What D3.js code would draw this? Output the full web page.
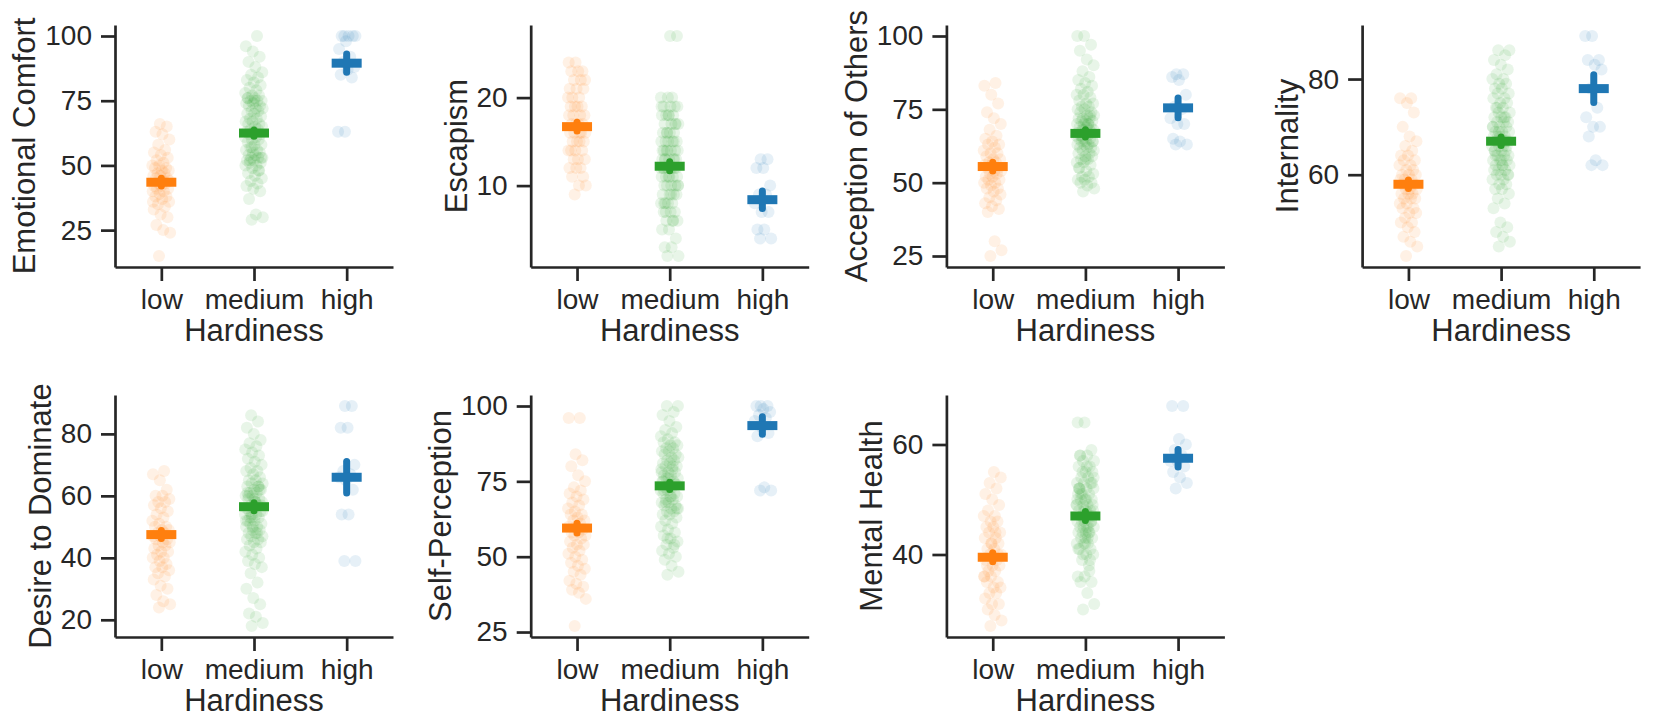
<!DOCTYPE html>
<html>
<head>
<meta charset="utf-8">
<script src="https://cdn.jsdelivr.net/npm/d3@7"></script>
<style>
body { margin: 0; background: #fff; }
svg text { font-family: "Liberation Sans", Arial, sans-serif; fill: #262626; }
</style>
</head>
<body>
<svg id="chart" width="1654" height="722"></svg>
<script>
// groups and colours
var groups = ["low", "medium", "high"];
var colors = ["#ff7f0e", "#2ca02c", "#1f77b4"];

// Emotional Comfort
var ecLow = [15, 24, 25, 27, 30, 31, 33, 34, 35, 36, 37, 38, 38, 39, 40, 40, 41, 41, 42, 42, 43, 43, 44, 44, 45, 45, 46, 46, 47, 47, 48, 48, 49, 49, 50, 50, 51, 52, 53, 54, 55, 56, 58, 60, 62, 63, 65, 66, 36, 44];
var ecMed = [29, 30, 31, 37, 40, 41, 42, 43, 44, 45, 46, 47, 48, 49, 50, 50, 51, 51, 52, 52, 53, 53, 53, 54, 54, 55, 55, 56, 56, 57, 58, 58, 59, 60, 60, 61, 61, 62, 62, 63, 63, 64, 64, 65, 65, 66, 66, 67, 67, 68, 68, 69, 70, 70, 71, 71, 72, 72, 73, 73, 74, 74, 75, 75, 75, 76, 76, 77, 77, 78, 79, 80, 81, 82, 83, 84, 85, 86, 88, 90, 92, 94, 96, 100, 52, 53, 75, 76, 48, 57];
var ecHigh = [100, 100, 100, 100, 100, 98, 95, 92, 90, 88, 87, 85, 84, 63, 63];
var ecMeans = [43.5, 62.5, 89.5];
var ecCi = [1.5, 1.2, 3.5];
var ecTicks = [25, 50, 75, 100];

// Escapism
var esLow = [9, 10, 10, 11, 11, 12, 12, 12, 13, 13, 13, 14, 14, 14, 14, 15, 15, 15, 15, 16, 16, 16, 16, 17, 17, 17, 17, 18, 18, 18, 18, 19, 19, 19, 19, 20, 20, 20, 21, 21, 21, 22, 22, 22, 23, 23, 23, 24, 24, 16];
var esMed = [2, 2, 3, 3, 4, 5, 5, 6, 6, 6, 7, 7, 7, 8, 8, 8, 8, 9, 9, 9, 9, 10, 10, 10, 10, 10, 11, 11, 11, 11, 11, 12, 12, 12, 12, 12, 12, 13, 13, 13, 13, 13, 14, 14, 14, 14, 14, 15, 15, 15, 15, 15, 16, 16, 16, 16, 17, 17, 17, 17, 18, 18, 18, 18, 19, 19, 19, 19, 20, 20, 20, 13, 12, 11, 14, 15, 16, 10, 9, 8, 17, 18, 19, 6, 7, 27, 27, 12, 13, 14];
var esHigh = [4, 4, 5, 5, 7, 7, 8, 9, 9, 10, 12, 12, 13, 13];
var esMeans = [16.7, 12.2, 8.4];
var esCi = [0.5, 0.5, 1.0];
var esTicks = [10, 20];

// Acception of Others
var aoLow = [25, 27, 30, 40, 41, 42, 43, 44, 45, 46, 47, 48, 48, 49, 50, 50, 51, 51, 52, 52, 53, 53, 54, 54, 55, 55, 56, 56, 57, 57, 58, 58, 59, 60, 60, 61, 62, 63, 63, 64, 65, 66, 68, 70, 72, 74, 77, 80, 83, 84];
var aoMed = [47, 48, 49, 50, 50, 51, 51, 52, 52, 53, 54, 55, 56, 57, 57, 58, 58, 59, 59, 60, 60, 61, 61, 62, 62, 62, 63, 63, 63, 64, 64, 64, 65, 65, 65, 66, 66, 66, 67, 67, 67, 68, 68, 68, 69, 69, 69, 70, 70, 70, 71, 71, 71, 72, 72, 72, 73, 73, 74, 74, 75, 75, 76, 76, 77, 77, 78, 79, 80, 80, 81, 82, 83, 84, 85, 86, 88, 90, 92, 95, 97, 100, 100, 70, 66, 64, 58, 55, 73, 68];
var aoHigh = [63, 63, 64, 65, 70, 70, 72, 75, 76, 80, 85, 86, 87, 87];
var aoMeans = [55.5, 66.8, 75.5];
var aoCi = [1.5, 1.2, 3.4];
var aoTicks = [25, 50, 75, 100];

// Internality
var inLow = [43, 45, 46, 47, 48, 49, 50, 50, 51, 52, 52, 53, 53, 54, 54, 55, 55, 55, 56, 56, 56, 57, 57, 57, 58, 58, 58, 59, 59, 59, 60, 60, 60, 61, 61, 62, 62, 63, 63, 64, 64, 65, 66, 67, 68, 70, 73, 75, 76, 76];
var inMed = [45, 46, 47, 48, 49, 50, 53, 54, 55, 56, 57, 57, 58, 58, 59, 59, 60, 60, 60, 61, 61, 61, 62, 62, 62, 63, 63, 63, 64, 64, 64, 65, 65, 65, 66, 66, 66, 67, 67, 67, 68, 68, 68, 69, 69, 69, 70, 70, 70, 71, 71, 71, 72, 72, 72, 73, 73, 74, 74, 75, 75, 76, 76, 77, 77, 78, 78, 79, 79, 80, 80, 81, 82, 83, 84, 85, 86, 86, 62, 64, 66, 68, 70, 72, 74, 60, 63, 65, 67, 69];
var inHigh = [62, 62, 63, 68, 70, 70, 72, 74, 78, 82, 83, 84, 84, 89, 89];
var inMeans = [58, 67, 78];
var inCi = [0.9, 0.9, 2.9];
var inTicks = [60, 80];

// Desire to Dominate
var ddLow = [24, 25, 26, 28, 30, 31, 33, 34, 35, 36, 37, 37, 38, 39, 40, 40, 41, 42, 42, 43, 44, 44, 45, 45, 46, 46, 47, 47, 48, 48, 49, 49, 50, 50, 51, 52, 53, 54, 55, 56, 57, 58, 58, 59, 60, 60, 62, 65, 67, 68];
var ddMed = [18, 19, 21, 22, 25, 27, 30, 32, 35, 37, 38, 39, 40, 41, 42, 43, 44, 45, 45, 46, 46, 47, 47, 48, 48, 49, 49, 50, 50, 51, 51, 52, 52, 53, 53, 54, 54, 55, 55, 56, 56, 57, 57, 58, 58, 59, 59, 60, 60, 61, 61, 62, 62, 63, 63, 64, 64, 65, 65, 66, 67, 68, 68, 69, 70, 71, 72, 73, 74, 75, 76, 77, 78, 80, 82, 84, 86, 55, 58, 60, 62, 50, 52, 48, 53, 57, 59, 61, 63, 54];
var ddHigh = [39, 39, 54, 54, 62, 65, 66, 67, 68, 70, 82, 82, 89, 89];
var ddMeans = [47.5, 56.5, 66];
var ddCi = [1.3, 1.3, 5.1];
var ddTicks = [20, 40, 60, 80];

// Self-Perception
var spLow = [27, 36, 38, 39, 40, 41, 42, 44, 45, 46, 47, 48, 49, 50, 51, 52, 53, 54, 54, 55, 56, 57, 57, 58, 58, 59, 60, 60, 61, 62, 62, 63, 64, 64, 65, 66, 67, 68, 69, 70, 71, 72, 73, 75, 77, 80, 82, 84, 96, 96];
var spMed = [44, 45, 47, 49, 50, 51, 52, 53, 54, 55, 56, 57, 58, 59, 60, 61, 62, 63, 64, 64, 65, 65, 66, 66, 67, 67, 68, 68, 69, 69, 70, 70, 71, 71, 72, 72, 73, 73, 74, 74, 75, 75, 76, 76, 77, 77, 78, 78, 79, 79, 80, 80, 81, 81, 82, 82, 83, 83, 84, 84, 85, 85, 86, 86, 87, 87, 88, 88, 89, 90, 91, 92, 93, 95, 97, 98, 100, 100, 70, 72, 74, 76, 78, 80, 68, 66, 73, 75, 54, 56];
var spHigh = [72, 72, 73, 90, 91, 93, 95, 96, 97, 98, 99, 100, 100, 100];
var spMeans = [59.5, 73.5, 93.5];
var spCi = [1.6, 1.2, 2.9];
var spTicks = [25, 50, 75, 100];

// Mental Health
var mhLow = [27, 28, 29, 30, 31, 31, 32, 33, 33, 34, 34, 35, 35, 36, 36, 37, 37, 38, 38, 39, 39, 40, 40, 41, 41, 42, 42, 43, 43, 44, 44, 45, 45, 46, 46, 47, 47, 48, 49, 50, 51, 52, 53, 54, 55, 38, 40, 42, 36, 44];
var mhMed = [30, 31, 33, 35, 35, 36, 36, 38, 39, 40, 40, 41, 41, 42, 42, 42, 43, 43, 43, 44, 44, 44, 45, 45, 45, 46, 46, 46, 47, 47, 47, 48, 48, 48, 49, 49, 49, 50, 50, 50, 51, 51, 51, 52, 52, 52, 53, 53, 53, 54, 54, 55, 55, 56, 56, 57, 57, 58, 58, 59, 64, 64, 44, 46, 48, 50, 52, 47, 45, 49, 43, 51, 53, 42, 41, 37, 55, 54, 56, 58, 46, 48, 50, 45, 47, 49, 44, 52, 39, 40];
var mhHigh = [52, 53, 54, 55, 56, 57, 57, 58, 59, 60, 61, 67, 67];
var mhMeans = [39.5, 47, 57.5];
var mhCi = [0.8, 0.8, 1.6];
var mhTicks = [40, 60];

var panels = [
  { label: "Emotional Comfort", values: [ecLow, ecMed, ecHigh], means: ecMeans, ci: ecCi, ticks: ecTicks },
  { label: "Escapism", values: [esLow, esMed, esHigh], means: esMeans, ci: esCi, ticks: esTicks },
  { label: "Acception of Others", values: [aoLow, aoMed, aoHigh], means: aoMeans, ci: aoCi, ticks: aoTicks },
  { label: "Internality", values: [inLow, inMed, inHigh], means: inMeans, ci: inCi, ticks: inTicks },
  { label: "Desire to Dominate", values: [ddLow, ddMed, ddHigh], means: ddMeans, ci: ddCi, ticks: ddTicks },
  { label: "Self-Perception", values: [spLow, spMed, spHigh], means: spMeans, ci: spCi, ticks: spTicks },
  { label: "Mental Health", values: [mhLow, mhMed, mhHigh], means: mhMeans, ci: mhCi, ticks: mhTicks }
];

var w = 278, h = 242;
var svg = d3.select("#chart");

panels.forEach(function(p, k) {
  var col = k % 4, row = Math.floor(k / 4);
  var left = 115 + col * 415.7;
  var top = row === 0 ? 25 : 395;

  var g = svg.append("g").attr("transform", "translate(" + left + "," + top + ")");

  var all = d3.merge(p.values);
  var lo = d3.min(all), hi = d3.max(all), pad = (hi - lo) * 0.05;

  var x = d3.scalePoint().domain(groups).range([0, w]).padding(0.5);
  var y = d3.scaleLinear().domain([lo - pad, hi + pad]).range([h, 0]);

  // strip points, deterministic jitter
  p.values.forEach(function(vals, gi) {
    g.append("g").selectAll("circle")
      .data(vals)
      .enter().append("circle")
      .attr("cx", function(d, i) { return x(groups[gi]) + (((i * 0.618034 + 0.37) % 1) - 0.5) * 18; })
      .attr("cy", function(d) { return y(d); })
      .attr("r", 6)
      .attr("fill", colors[gi])
      .attr("fill-opacity", 0.11);
  });

  // means with error bars
  groups.forEach(function(gr, gi) {
    var m = p.means[gi], c = p.ci[gi];
    g.append("line")
      .attr("x1", x(gr)).attr("x2", x(gr))
      .attr("y1", y(m - c)).attr("y2", y(m + c))
      .attr("stroke", colors[gi])
      .attr("stroke-width", 7)
      .attr("stroke-linecap", "round");
    g.append("rect")
      .attr("x", x(gr) - 15).attr("y", y(m) - 4.5)
      .attr("width", 30).attr("height", 9)
      .attr("fill", colors[gi]);
  });

  // axes
  var xa = g.append("g").attr("transform", "translate(0," + h + ")")
    .call(d3.axisBottom(x).tickSize(14).tickSizeOuter(0));
  xa.selectAll("text").attr("y", 42).attr("dy", null).style("font-size", "28px");

  var ya = g.append("g")
    .call(d3.axisLeft(y).tickValues(p.ticks).tickSize(14).tickSizeOuter(0).tickPadding(9));
  ya.selectAll("text").style("font-size", "28px");

  [xa, ya].forEach(function(a) {
    a.select(".domain").attr("stroke", "#262626").attr("stroke-width", 2.7);
    a.selectAll(".tick line").attr("stroke", "#262626").attr("stroke-width", 2.7);
  });

  g.append("text")
    .attr("x", w / 2).attr("y", h + 74)
    .attr("text-anchor", "middle")
    .style("font-size", "31px")
    .text("Hardiness");

  var bb = ya.node().getBBox();
  g.append("text")
    .attr("transform", "translate(" + (bb.x - 10) + "," + (h / 2) + ") rotate(-90)")
    .attr("text-anchor", "middle")
    .style("font-size", "31px")
    .text(p.label);
});
</script>
</body>
</html>
